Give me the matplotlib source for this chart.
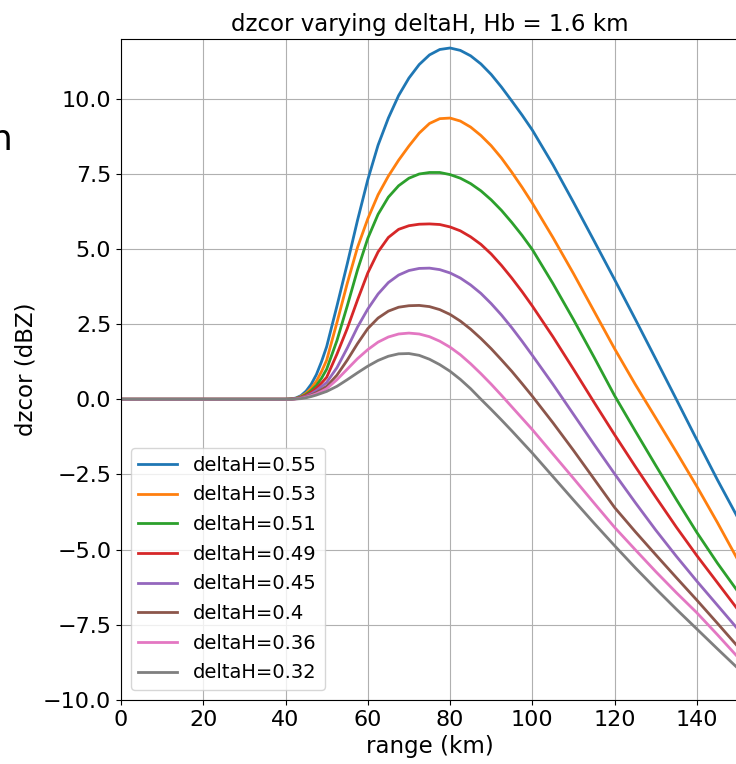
import matplotlib
matplotlib.use("Agg")
import matplotlib.pyplot as plt

# range samples (km), denser through the onset of the correction
rng = [0, 40, 41.25, 42.5, 43.75, 45, 46.25, 47.5, 48.75, 50,
       52.5, 55, 57.5, 60, 62.5, 65, 67.5, 70, 72.5, 75,
       77.5, 80, 82.5, 85, 87.5, 90, 92.5, 95, 97.5, 100,
       105, 110, 115, 120, 125, 130, 135, 140, 145, 150]

deltaH = [0.55, 0.53, 0.51, 0.49, 0.45, 0.4, 0.36, 0.32]

dz_055 = [0, 0, 0.01, 0.04, 0.12, 0.27, 0.5, 0.82, 1.25, 1.75,
          3.1, 4.5, 5.95, 7.3, 8.45, 9.35, 10.1, 10.68, 11.13, 11.45,
          11.63, 11.68, 11.6, 11.42, 11.15, 10.8, 10.38, 9.92, 9.45, 8.95,
          7.8, 6.55, 5.27, 3.98, 2.67, 1.34, 0.0, -1.35, -2.68, -3.95]
dz_053 = [0, 0, 0.01, 0.03, 0.09, 0.2, 0.37, 0.6, 0.92, 1.3,
          2.55, 3.85, 5.05, 6.0, 6.8, 7.42, 7.95, 8.42, 8.85, 9.17,
          9.33, 9.35, 9.25, 9.05, 8.77, 8.43, 8.02, 7.55, 7.05, 6.52,
          5.38, 4.18, 2.93, 1.68, 0.5, -0.62, -1.75, -2.9, -4.1, -5.35]
dz_051 = [0, 0, 0.01, 0.03, 0.07, 0.16, 0.29, 0.46, 0.7, 1.0,
          1.95, 3.1, 4.3, 5.35, 6.15, 6.72, 7.1, 7.35, 7.49, 7.54,
          7.54, 7.47, 7.35, 7.17, 6.93, 6.63, 6.28, 5.88, 5.45, 4.98,
          3.85, 2.65, 1.4, 0.12, -1.05, -2.2, -3.33, -4.43, -5.45, -6.4]
dz_049 = [0, 0, 0.0, 0.02, 0.06, 0.13, 0.23, 0.37, 0.54, 0.73,
          1.5, 2.35, 3.3, 4.2, 4.9, 5.38, 5.65, 5.77, 5.82, 5.83,
          5.81, 5.73, 5.6, 5.4, 5.15, 4.83, 4.45, 4.03, 3.58, 3.1,
          2.08, 1.0, -0.1, -1.18, -2.23, -3.25, -4.25, -5.2, -6.1, -7.0]
dz_045 = [0, 0, 0.0, 0.02, 0.05, 0.1, 0.18, 0.29, 0.42, 0.56,
          1.05, 1.7, 2.4, 3.0, 3.5, 3.88, 4.13, 4.28, 4.35, 4.36,
          4.31, 4.2, 4.03, 3.8, 3.52, 3.18, 2.8, 2.38, 1.93, 1.46,
          0.5, -0.5, -1.5, -2.48, -3.43, -4.35, -5.22, -6.05, -6.85, -7.65]
dz_040 = [0, 0, 0.0, 0.02, 0.04, 0.08, 0.14, 0.22, 0.32, 0.43,
          0.8, 1.3, 1.85, 2.35, 2.7, 2.93, 3.06, 3.11, 3.12, 3.08,
          2.98, 2.82, 2.6, 2.33, 2.02, 1.68, 1.31, 0.93, 0.52, 0.1,
          -0.78, -1.7, -2.65, -3.6, -4.4, -5.17, -5.93, -6.68, -7.45, -8.23]
dz_036 = [0, 0, 0.0, 0.01, 0.03, 0.07, 0.12, 0.18, 0.26, 0.35,
          0.65, 1.0, 1.35, 1.65, 1.9, 2.07, 2.17, 2.2, 2.17, 2.08,
          1.93, 1.73, 1.48, 1.18, 0.85, 0.5, 0.13, -0.25, -0.63, -1.01,
          -1.82, -2.63, -3.45, -4.26, -5.0, -5.73, -6.43, -7.1, -7.83, -8.58]
dz_032 = [0, 0, 0.0, 0.01, 0.02, 0.05, 0.09, 0.14, 0.2, 0.26,
          0.43, 0.65, 0.88, 1.1, 1.29, 1.43, 1.51, 1.52, 1.46, 1.33,
          1.15, 0.93, 0.66, 0.35, 0.0, -0.34, -0.69, -1.05, -1.42, -1.79,
          -2.57, -3.35, -4.12, -4.87, -5.6, -6.3, -6.98, -7.64, -8.3, -8.95]

curves = [dz_055, dz_053, dz_051, dz_049, dz_045, dz_040, dz_036, dz_032]

fig = plt.figure(figsize=(7.36, 7.64), dpi=100)
ax = fig.add_axes([0.1644, 0.0838, 0.8383, 0.8652])

for dh, dz in zip(deltaH, curves):
    ax.plot(rng, dz, lw=2, label='deltaH=' + str(dh))

ax.set_xlim(0, 150)
ax.set_ylim(-10, 11.98)
ax.grid(True)
ax.tick_params(labelsize=16)
ax.set_xlabel('range (km)', fontsize=16.5)
ax.set_ylabel('dzcor (dBZ)', fontsize=16.5)
ax.set_title('dzcor varying deltaH, Hb = 1.6 km', fontsize=16.5)
ax.legend(loc='lower left', fontsize=14, labelspacing=0.55)

# leftover label from the neighbouring panel
fig.text(13 / 736, 0.8037, 'n', ha='right', va='baseline', fontsize=26)

plt.savefig('out.png', dpi=100)
